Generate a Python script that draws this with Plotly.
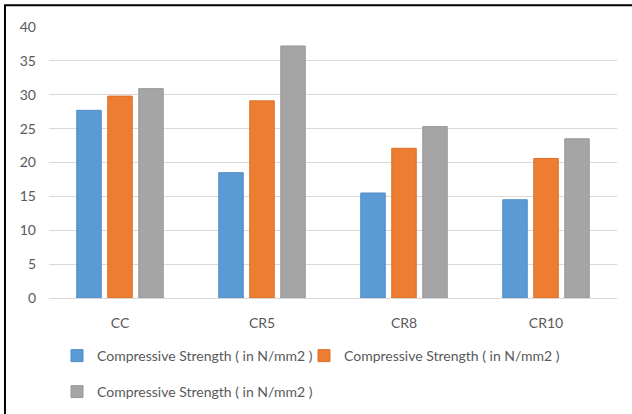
import plotly.graph_objects as go

categories = ["CC", "CR5", "CR8", "CR10"]
series_names = ["Compressive Strength ( in N/mm2 )",
                "Compressive Strength ( in N/mm2 )",
                "Compressive Strength ( in N/mm2 )"]
series1 = [27.7, 18.5, 15.5, 14.5]
series2 = [29.8, 29.1, 22.1, 20.6]
series3 = [30.9, 37.2, 25.3, 23.5]
y_ticks = [0, 5, 10, 15, 20, 25, 30, 35, 40]

colors = ["#5B9BD5", "#ED7D31", "#A5A5A5"]
edges = ["#4F8CC4", "#DB7029", "#989898"]
legends = ["legend", "legend2", "legend3"]

fig = go.Figure()
for name, vals, c, e, lg in zip(series_names, [series1, series2, series3], colors, edges, legends):
    fig.add_trace(go.Bar(x=categories, y=vals, name=name, legend=lg,
                         marker=dict(color=c, line=dict(color=e, width=1))))

fam = "Lato, Open Sans, sans-serif"
font = dict(family=fam, size=14, color="#595959")

def leg(x, y):
    return dict(orientation="h", xref="container", yref="container",
                x=x, xanchor="left", y=y, yanchor="middle",
                font=font, itemclick=False, itemdoubleclick=False,
                bgcolor="rgba(0,0,0,0)")

fig.update_layout(
    width=632, height=414,
    margin=dict(l=49, r=15, t=27, b=116, autoexpand=False),
    paper_bgcolor="white", plot_bgcolor="white",
    barmode="group", bargap=0.345, bargroupgap=0.21,
    font=font,
    showlegend=True,
    legend=leg(0.0902, 0.140),
    legend2=leg(0.481, 0.140),
    legend3=leg(0.0902, 0.0531),
    xaxis=dict(showgrid=False, showline=True, linecolor="#D9D9D9", linewidth=1,
               ticks="", tickfont=font, ticklabelstandoff=12),
    yaxis=dict(range=[0, 40], tickvals=y_ticks, showgrid=True, gridcolor="#D9D9D9",
               gridwidth=1, zeroline=False, showline=False, ticks="",
               tickfont=font, ticklabelstandoff=12),
    shapes=[dict(type="rect", xref="paper", yref="paper",
                 x0=-0.0775, x1=1.1, y0=-0.5, y1=1.08,
                 line=dict(color="black", width=2), fillcolor="rgba(0,0,0,0)", layer="above")],
)

fig.write_html("out.html", config={"displayModeBar": False},
               post_script="document.body.style.margin='0';")
